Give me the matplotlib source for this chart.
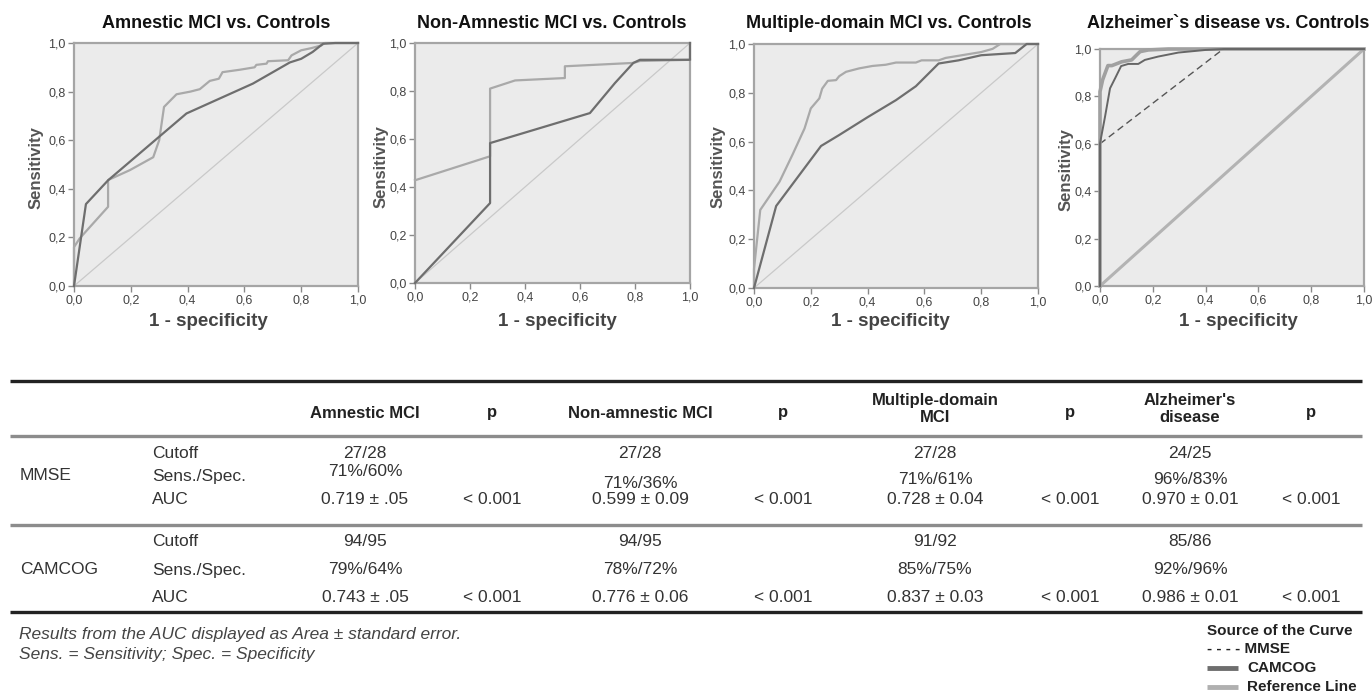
import matplotlib
matplotlib.use('Agg')
import matplotlib.pyplot as plt
from matplotlib.ticker import FuncFormatter

plt.rcParams['font.family'] = ['Liberation Sans', 'DejaVu Sans']

# ---------------- data ----------------
panel_titles = ["Amnestic MCI vs. Controls", "Non-Amnestic MCI vs. Controls",
                "Multiple-domain MCI vs. Controls", "Alzheimer`s disease vs. Controls"]

# Panel 1: Amnestic MCI
mmse1_x = [0, 0.042, 0.12, 0.396, 0.63, 0.76, 0.80, 0.84, 0.877, 0.92, 1.0]
mmse1_y = [0, 0.337, 0.435, 0.71, 0.833, 0.92, 0.935, 0.963, 0.997, 1.0, 1.0]
camcog1_x = [0, 0, 0.02, 0.12, 0.12, 0.197, 0.279, 0.30, 0.317, 0.361, 0.41, 0.443, 0.478,
             0.51, 0.523, 0.584, 0.636, 0.642, 0.678, 0.683, 0.754, 0.766, 0.80, 0.836,
             0.871, 0.883, 1.0]
camcog1_y = [0, 0.16, 0.196, 0.326, 0.436, 0.477, 0.53, 0.60, 0.737, 0.789, 0.80, 0.81, 0.844,
             0.853, 0.88, 0.89, 0.90, 0.91, 0.915, 0.925, 0.929, 0.949, 0.97, 0.979,
             0.99, 1.0, 1.0]

# Panel 2: Non-amnestic MCI
mmse2_x = [0, 0.273, 0.273, 0.636, 0.727, 0.794, 0.818, 1.0, 1.0]
mmse2_y = [0, 0.333, 0.583, 0.708, 0.833, 0.917, 0.93, 0.93, 1.0]
camcog2_x = [0, 0.273, 0.273, 0.364, 0.545, 0.545, 0.794, 0.818, 1.0]
camcog2_y = [0.428, 0.528, 0.81, 0.844, 0.854, 0.903, 0.917, 0.925, 0.93]

# Panel 3: Multiple-domain MCI
mmse3_x = [0, 0.078, 0.236, 0.30, 0.40, 0.50, 0.57, 0.65, 0.72, 0.80, 0.92, 0.96, 1.0]
mmse3_y = [0, 0.336, 0.582, 0.627, 0.70, 0.77, 0.827, 0.92, 0.933, 0.954, 0.963, 1.0, 1.0]
camcog3_x = [0, 0, 0.022, 0.09, 0.137, 0.178, 0.20, 0.23, 0.24, 0.26, 0.289, 0.30, 0.324,
             0.37, 0.417, 0.464, 0.5, 0.57, 0.59, 0.65, 0.675, 0.80, 0.84, 0.867, 1.0]
camcog3_y = [0, 0.078, 0.32, 0.436, 0.55, 0.654, 0.736, 0.777, 0.817, 0.849, 0.852, 0.868,
             0.886, 0.90, 0.91, 0.915, 0.924, 0.924, 0.933, 0.933, 0.943, 0.967, 0.98, 1.0, 1.0]

# Panel 4: Alzheimer's disease
camcog4_x = [0, 0, 0.01, 0.02, 0.03, 0.045, 0.082, 0.12, 0.139, 0.152, 0.183, 0.259, 1.0]
camcog4_y = [0, 0.82, 0.87, 0.90, 0.93, 0.93, 0.946, 0.954, 0.975, 0.989, 0.996, 1.0, 1.0]
mmse4_x = [0, 0, 0.019, 0.038, 0.057, 0.08, 0.107, 0.145, 0.17, 0.22, 0.297, 0.40, 0.47, 1.0]
mmse4_y = [0, 0.602, 0.714, 0.834, 0.876, 0.928, 0.937, 0.937, 0.954, 0.968, 0.985, 0.996, 1.0, 1.0]
dashed4_x = [0, 0.467, 1.0]
dashed4_y = [0.6, 1.0, 1.0]

ref_x = [0, 1]
ref_y = [0, 1]
tick_values = [0.0, 0.2, 0.4, 0.6, 0.8, 1.0]

# Table
table_cols = ["Amnestic MCI", "p", "Non-amnestic MCI", "p", "Multiple-domain\nMCI", "p",
              "Alzheimer's\ndisease", "p"]
row_groups = ["MMSE", "CAMCOG"]
row_labels = ["Cutoff", "Sens./Spec.", "AUC"]
mmse_cutoff = ["27/28", "27/28", "27/28", "24/25"]
mmse_sensspec = ["71%/60%", "71%/36%", "71%/61%", "96%/83%"]
mmse_auc = ["0.719 ± .05", "0.599 ± 0.09", "0.728 ± 0.04", "0.970 ± 0.01"]
mmse_p = ["< 0.001", "< 0.001", "< 0.001", "< 0.001"]
camcog_cutoff = ["94/95", "94/95", "91/92", "85/86"]
camcog_sensspec = ["79%/64%", "78%/72%", "85%/75%", "92%/96%"]
camcog_auc = ["0.743 ± .05", "0.776 ± 0.06", "0.837 ± 0.03", "0.986 ± 0.01"]
camcog_p = ["< 0.001", "< 0.001", "< 0.001", "< 0.001"]
footnotes = ["Results from the AUC displayed as Area ± standard error.",
             "Sens. = Sensitivity; Spec. = Specificity"]
legend_title = "Source of the Curve"
legend_items = ["MMSE", "CAMCOG", "Reference Line"]

# ---------------- figure ----------------
W, H = 1372, 693
fig = plt.figure(figsize=(W / 100, H / 100), dpi=100)
fig.patch.set_facecolor('white')

ov = fig.add_axes([0, 0, 1, 1])
ov.set_xlim(0, W)
ov.set_ylim(H, 0)
ov.axis('off')

boxes = [(74, 43, 358, 286), (415, 43, 690, 283), (754, 44, 1038, 288), (1100, 49, 1364, 286)]
title_pos = [(216, 24), (552, 24), (889, 24), (1228, 23)]
ylab_pos = [(36, 168), (381, 167), (718, 167), (1066, 170)]
xlab_pos = [(208, 322), (557, 322), (890, 322), (1238, 322)]

MMSE_C = '#6e6e6e'
CAM_C = '#a9a9a9'
REF_C = '#c9c9c9'

fmt = FuncFormatter(lambda v, p: ("%.1f" % v).replace('.', ','))

curves = [
    [(mmse1_x, mmse1_y), (camcog1_x, camcog1_y)],
    [(mmse2_x, mmse2_y), (camcog2_x, camcog2_y)],
    [(mmse3_x, mmse3_y), (camcog3_x, camcog3_y)],
]

for i, (l, t, r, b) in enumerate(boxes):
    ax = fig.add_axes([l / W, 1 - b / H, (r - l) / W, (b - t) / H])
    ax.set_facecolor('#ebebeb')
    ax.set_xlim(0, 1)
    ax.set_ylim(0, 1)
    for s in ax.spines.values():
        s.set_color('#a5a5a5')
        s.set_linewidth(1.6)
    ax.set_xticks(tick_values)
    ax.set_yticks(tick_values)
    ax.xaxis.set_major_formatter(fmt)
    ax.yaxis.set_major_formatter(fmt)
    ax.tick_params(direction='out', length=4, width=1, color='#8a8a8a',
                   labelsize=9, labelcolor='#444444', pad=2)
    if i < 3:
        ax.plot(ref_x, ref_y, color=REF_C, lw=0.9, zorder=2)
        (mx, my), (cx, cy) = curves[i]
        ax.plot(cx, cy, color=CAM_C, lw=1.6, zorder=3, clip_on=False)
        ax.plot(mx, my, color=MMSE_C, lw=1.6, zorder=4, clip_on=False)
    else:
        ax.plot(ref_x, ref_y, color='#b3b3b3', lw=2.2, zorder=2)
        ax.plot(dashed4_x, dashed4_y, color='#555555', lw=1.0, ls=(0, (5, 3)), zorder=3)
        ax.plot(camcog4_x, camcog4_y, color='#a0a0a0', lw=2.6, zorder=4, clip_on=False)
        ax.plot(mmse4_x, mmse4_y, color='#666666', lw=1.4, zorder=5, clip_on=False)
    ov.text(*title_pos[i], panel_titles[i], ha='center', va='center', fontsize=13,
            fontweight='bold', color='#111111')
    ov.text(*ylab_pos[i], "Sensitivity", ha='center', va='center', rotation=90,
            fontsize=12, fontweight='bold', color='#555555')
    ov.text(*xlab_pos[i], "1 - specificity", ha='center', va='center',
            fontsize=13.5, fontweight='bold', color='#444444')

# ---------------- table ----------------
TXT = '#333333'
col_x = [365, 492, 640, 783, 935, 1070, 1190, 1311]
ov.plot([10, 1362], [381, 381], color='#222222', lw=2.4, solid_capstyle='butt')
ov.plot([10, 1362], [436, 436], color='#8c8c8c', lw=2.4, solid_capstyle='butt')
ov.plot([10, 1362], [525, 525], color='#8c8c8c', lw=2.4, solid_capstyle='butt')
ov.plot([10, 1362], [612, 612], color='#222222', lw=2.4, solid_capstyle='butt')

for x, lab in zip(col_x, table_cols):
    y = 409 if '\n' in lab else 413
    ov.text(x, y, lab, ha='center', va='center', fontsize=12, fontweight='bold',
            color='#222222', linespacing=1.1)

group_rows = [(453, 476, 500), (542, 570, 597)]
group_vals = [(mmse_cutoff, mmse_sensspec, mmse_auc, mmse_p),
              (camcog_cutoff, camcog_sensspec, camcog_auc, camcog_p)]
sens_shift = [[-4, 8, 4, 4], [0, 0, 0, 0]]
for g, (rows, vals) in enumerate(zip(group_rows, group_vals)):
    ov.text(20, rows[1], row_groups[g], ha='left', va='center', fontsize=12.5, color=TXT)
    for ry, rl in zip(rows, row_labels):
        ov.text(152, ry, rl, ha='left', va='center', fontsize=12.5, color=TXT)
    cut, ss, auc, pv = vals
    for k in range(4):
        cx = col_x[2 * k]
        px = col_x[2 * k + 1]
        ov.text(cx, rows[0], cut[k], ha='center', va='center', fontsize=12.5, color=TXT)
        ov.text(cx, rows[1] + sens_shift[g][k], ss[k], ha='center', va='center',
                fontsize=12.5, color=TXT)
        ov.text(cx, rows[2], auc[k], ha='center', va='center', fontsize=12.5, color=TXT)
        ov.text(px, rows[2], pv[k], ha='center', va='center', fontsize=12.5, color=TXT)

ov.text(19, 635, footnotes[0], ha='left', va='center', fontsize=12.5, style='italic',
        color='#444444')
ov.text(19, 655, footnotes[1], ha='left', va='center', fontsize=12.5, style='italic',
        color='#444444')

# legend
LX = 1207
ov.text(LX, 631, legend_title, ha='left', va='center', fontsize=11, fontweight='bold',
        color='#222222')
ov.text(LX, 649, "- - - - " + legend_items[0], ha='left', va='center', fontsize=11,
        fontweight='bold', color='#222222')
ov.plot([LX, LX + 31], [668, 668], color='#6e6e6e', lw=3.5, solid_capstyle='butt')
ov.text(LX + 40, 668, legend_items[1], ha='left', va='center', fontsize=11,
        fontweight='bold', color='#222222')
ov.plot([LX, LX + 31], [687, 687], color='#b0b0b0', lw=3.5, solid_capstyle='butt')
ov.text(LX + 40, 687, legend_items[2], ha='left', va='center', fontsize=11,
        fontweight='bold', color='#222222')

fig.savefig('out.png', dpi=100, facecolor='white')
